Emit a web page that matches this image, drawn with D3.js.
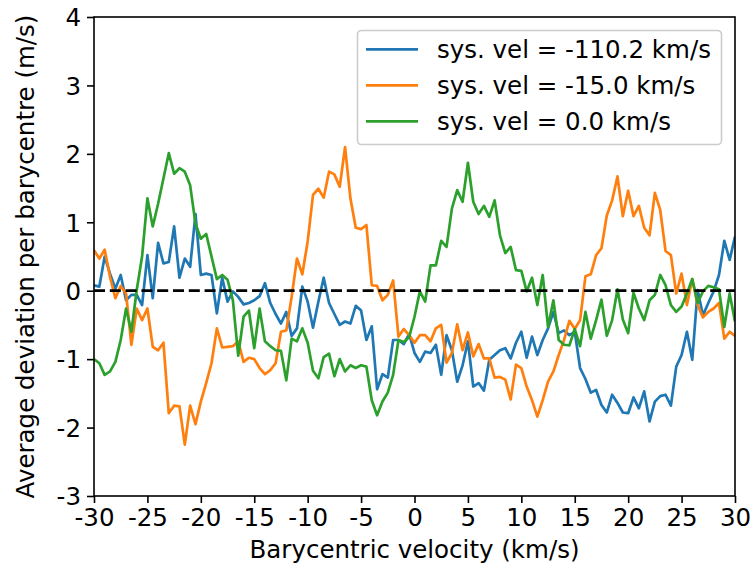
<!DOCTYPE html>
<html>
<head>
<meta charset="utf-8">
<script src="https://cdn.jsdelivr.net/npm/d3@7"></script>
<style>
  html, body { margin: 0; padding: 0; background: #fff; }
  svg { display: block; font-family: "DejaVu Sans", sans-serif; }
</style>
</head>
<body>
<svg id="chart" width="753" height="567"></svg>
<script>
// Barycentric velocity grid (km/s)
const velocity = [
  -30, -29.5, -29, -28.5, -28, -27.5, -27, -26.5, -26, -25.5,
  -25, -24.5, -24, -23.5, -23, -22.5, -22, -21.5, -21, -20.5,
  -20, -19.5, -19, -18.5, -18, -17.5, -17, -16.5, -16, -15.5,
  -15, -14.5, -14, -13.5, -13, -12.5, -12, -11.5, -11, -10.5,
  -10, -9.5, -9, -8.5, -8, -7.5, -7, -6.5, -6, -5.5,
  -5, -4.5, -4, -3.5, -3, -2.5, -2, -1.5, -1, -0.5,
  0, 0.5, 1, 1.5, 2, 2.5, 3, 3.5, 4, 4.5,
  5, 5.5, 6, 6.5, 7, 7.5, 8, 8.5, 9, 9.5,
  10, 10.5, 11, 11.5, 12, 12.5, 13, 13.5, 14, 14.5,
  15, 15.5, 16, 16.5, 17, 17.5, 18, 18.5, 19, 19.5,
  20, 20.5, 21, 21.5, 22, 22.5, 23, 23.5, 24, 24.5,
  25, 25.5, 26, 26.5, 27, 27.5, 28, 28.5, 29, 29.5,
  30
];

// Average deviation per barycentre (m/s) for each systemic velocity
const devSys1102 = [
  0.08, 0.06, 0.50, 0.25, 0.03, 0.23, -0.14, -0.06, -0.06, -0.21,
  0.52, -0.11, 0.70, 0.40, 0.42, 0.94, 0.19, 0.47, 0.35, 1.12,
  0.23, 0.25, 0.23, -0.33, 0.19, -0.16, -0.01, -0.09, -0.20, -0.18,
  -0.14, -0.08, 0.11, -0.18, -0.34, -0.48, -0.31, -0.66, -0.55, 0.06,
  -0.16, -0.54, -0.16, 0.19, -0.18, -0.34, -0.50, -0.45, -0.48, -0.22,
  -0.29, -0.72, -0.52, -1.44, -1.22, -1.27, -0.72, -0.72, -0.78, -0.63,
  -0.91, -1.04, -0.89, -0.91, -0.79, -1.23, -0.65, -0.87, -1.33, -1.09,
  -0.74, -1.40, -1.35, -1.46, -1.01, -0.94, -0.87, -0.84, -0.99, -0.76,
  -0.60, -0.98, -0.67, -0.94, -0.72, -0.55, -0.31, -0.62, -0.58, -0.65,
  -0.60, -1.13, -1.29, -1.49, -1.45, -1.67, -1.78, -1.52, -1.64, -1.78,
  -1.79, -1.56, -1.72, -1.47, -1.91, -1.62, -1.54, -1.52, -1.68, -1.11,
  -0.94, -0.60, -1.01, 0.01, -0.36, -0.18, -0.01, 0.23, 0.73, 0.45,
  0.79
];

const devSys150 = [
  0.59, 0.47, 0.60, 0.20, -0.11, 0.07, -0.04, -0.79, -0.26, -0.43,
  -0.26, -0.82, -0.87, -0.76, -1.79, -1.68, -1.69, -2.25, -1.68, -1.95,
  -1.62, -1.35, -1.06, -0.55, -0.83, -0.82, -0.81, -0.74, -1.04, -0.98,
  -1.00, -1.13, -1.22, -1.16, -1.06, -0.60, -0.58, -0.09, 0.47, 0.24,
  0.72, 1.40, 1.49, 1.36, 1.74, 1.70, 1.52, 2.10, 1.35, 0.92,
  0.90, 0.96, 0.08, 0.07, -0.14, -0.06, 0.15, -0.67, -0.56, -0.65,
  -0.76, -0.65, -0.65, -0.74, -0.55, -0.50, -1.05, -0.91, -0.49, -0.87,
  -0.61, -0.96, -0.78, -0.99, -0.99, -1.27, -1.26, -1.30, -1.59, -1.08,
  -1.13, -1.40, -1.60, -1.84, -1.60, -1.33, -1.18, -0.94, -0.72, -0.44,
  -0.56, -0.43, 0.21, 0.24, 0.52, 0.62, 1.10, 1.32, 1.67, 1.09,
  1.46, 1.09, 1.24, 0.92, 0.81, 1.43, 1.18, 0.58, 0.52, -0.04,
  0.25, -0.21, 0.17, -0.21, -0.39, -0.31, -0.26, -0.18, -0.70, -0.60,
  -0.66
];

const devSys00 = [
  -1.00, -1.06, -1.23, -1.18, -1.04, -0.72, -0.26, -0.60, 0.01, 0.50,
  1.35, 0.94, 1.27, 1.64, 2.01, 1.71, 1.79, 1.74, 1.54, 0.98,
  0.76, 0.83, 0.50, 0.17, 0.23, 0.16, -0.14, -0.95, -0.38, -0.29,
  -0.84, -0.26, -0.74, -0.81, -0.87, -0.88, -1.31, -0.70, -0.74, -0.55,
  -0.76, -1.17, -1.28, -0.97, -0.92, -1.25, -1.00, -1.18, -1.09, -1.13,
  -1.09, -1.11, -1.60, -1.82, -1.62, -1.49, -1.23, -0.72, -0.75, -0.68,
  -0.38, -0.01, -0.16, 0.37, 0.37, 0.73, 0.64, 1.20, 1.47, 1.30,
  1.87, 1.30, 1.12, 1.24, 1.08, 1.32, 0.81, 0.55, 0.64, 0.30,
  0.29, -0.01, 0.19, -0.21, 0.23, -0.53, -0.14, -0.72, -0.79, -0.80,
  -0.56, -0.81, -0.31, -0.70, -0.43, -0.13, -0.66, -0.43, 0.02, -0.42,
  -0.62, -0.03, -0.26, -0.43, -0.14, -0.06, 0.23, 0.08, -0.21, -0.31,
  -0.23, -0.04, 0.17, -0.18, -0.01, 0.07, 0.05, 0.02, -0.53, -0.04,
  -0.45
];

const seriesNames = ["sys. vel = -110.2 km/s", "sys. vel = -15.0 km/s", "sys. vel = 0.0 km/s"];
const seriesColors = ["#1f77b4", "#ff7f0e", "#2ca02c"];
const seriesValues = [devSys1102, devSys150, devSys00];

const xTicks = [-30, -25, -20, -15, -10, -5, 0, 5, 10, 15, 20, 25, 30];
const xTickLabels = ["-30", "-25", "-20", "-15", "-10", "-5", "0", "5", "10", "15", "20", "25", "30"];
const yTicks = [-3, -2, -1, 0, 1, 2, 3, 4];
const yTickLabels = ["-3", "-2", "-1", "0", "1", "2", "3", "4"];

const xLabel = "Barycentric velocity (km/s)";
const yLabel = "Average deviation per barycentre (m/s)";

// Layout
const W = 753, H = 567;
const plot = { left: 94, right: 735, top: 17, bottom: 496 };
const FONT = 24.5;

const svg = d3.select("#chart");

const x = d3.scaleLinear().domain([-30, 30]).range([plot.left, plot.right]);
const y = d3.scaleLinear().domain([-3, 4]).range([plot.bottom, plot.top]);

// Clip so lines stay inside the axes box
svg.append("defs").append("clipPath").attr("id", "plotClip")
  .append("rect")
  .attr("x", plot.left).attr("y", plot.top)
  .attr("width", plot.right - plot.left).attr("height", plot.bottom - plot.top);

const lineGen = d3.line()
  .x((d, i) => x(velocity[i]))
  .y(d => y(d));

const lines = svg.append("g").attr("clip-path", "url(#plotClip)");
seriesValues.forEach((vals, k) => {
  lines.append("path")
    .datum(vals)
    .attr("d", lineGen)
    .attr("fill", "none")
    .attr("stroke", seriesColors[k])
    .attr("stroke-width", 2.7)
    .attr("stroke-linejoin", "round")
    .attr("stroke-linecap", "butt");
});

// Zero reference line
lines.append("line")
  .attr("x1", x(-30)).attr("x2", x(30))
  .attr("y1", y(0)).attr("y2", y(0))
  .attr("stroke", "#000")
  .attr("stroke-width", 2.7)
  .attr("stroke-dasharray", "11,4.8");

// Axes
const xAxis = d3.axisBottom(x)
  .tickValues(xTicks)
  .tickFormat((d, i) => xTickLabels[i])
  .tickSize(7).tickPadding(6);
const yAxis = d3.axisLeft(y)
  .tickValues(yTicks)
  .tickFormat((d, i) => yTickLabels[i])
  .tickSize(7).tickPadding(6);

const gx = svg.append("g").attr("transform", `translate(0,${plot.bottom})`).call(xAxis);
const gy = svg.append("g").attr("transform", `translate(${plot.left},0)`).call(yAxis);

[gx, gy].forEach(g => {
  g.select(".domain").remove();
  g.selectAll(".tick line").attr("stroke", "#000").attr("stroke-width", 1.6);
  g.selectAll(".tick text")
    .attr("fill", "#000")
    .style("font-family", "DejaVu Sans")
    .style("font-size", FONT + "px");
});
gx.selectAll(".tick text").attr("dy", "0.71em");
gy.selectAll(".tick text").attr("dy", "0.36em");

// Axes frame
svg.append("rect")
  .attr("x", plot.left).attr("y", plot.top)
  .attr("width", plot.right - plot.left).attr("height", plot.bottom - plot.top)
  .attr("fill", "none").attr("stroke", "#000").attr("stroke-width", 1.6);

// Axis titles
svg.append("text")
  .attr("x", (plot.left + plot.right) / 2).attr("y", 558)
  .attr("text-anchor", "middle")
  .style("font-size", FONT + "px")
  .text(xLabel);

svg.append("text")
  .attr("transform", `translate(34,${(plot.top + plot.bottom) / 2}) rotate(-90)`)
  .attr("text-anchor", "middle")
  .style("font-size", FONT + "px")
  .text(yLabel);

// Legend
const legend = svg.append("g");
legend.append("rect")
  .attr("x", 357.5).attr("y", 30.5)
  .attr("width", 364).attr("height", 114)
  .attr("rx", 4).attr("ry", 4)
  .attr("fill", "rgba(255,255,255,0.8)")
  .attr("stroke", "#cccccc").attr("stroke-width", 1.6);

seriesNames.forEach((name, k) => {
  const ly = 49.3 + k * 36;
  legend.append("line")
    .attr("x1", 366).attr("x2", 418)
    .attr("y1", ly).attr("y2", ly)
    .attr("stroke", seriesColors[k]).attr("stroke-width", 2.7);
  legend.append("text")
    .attr("x", 437).attr("y", ly + 8.5)
    .style("font-size", FONT + "px")
    .text(name);
});
</script>
</body>
</html>
